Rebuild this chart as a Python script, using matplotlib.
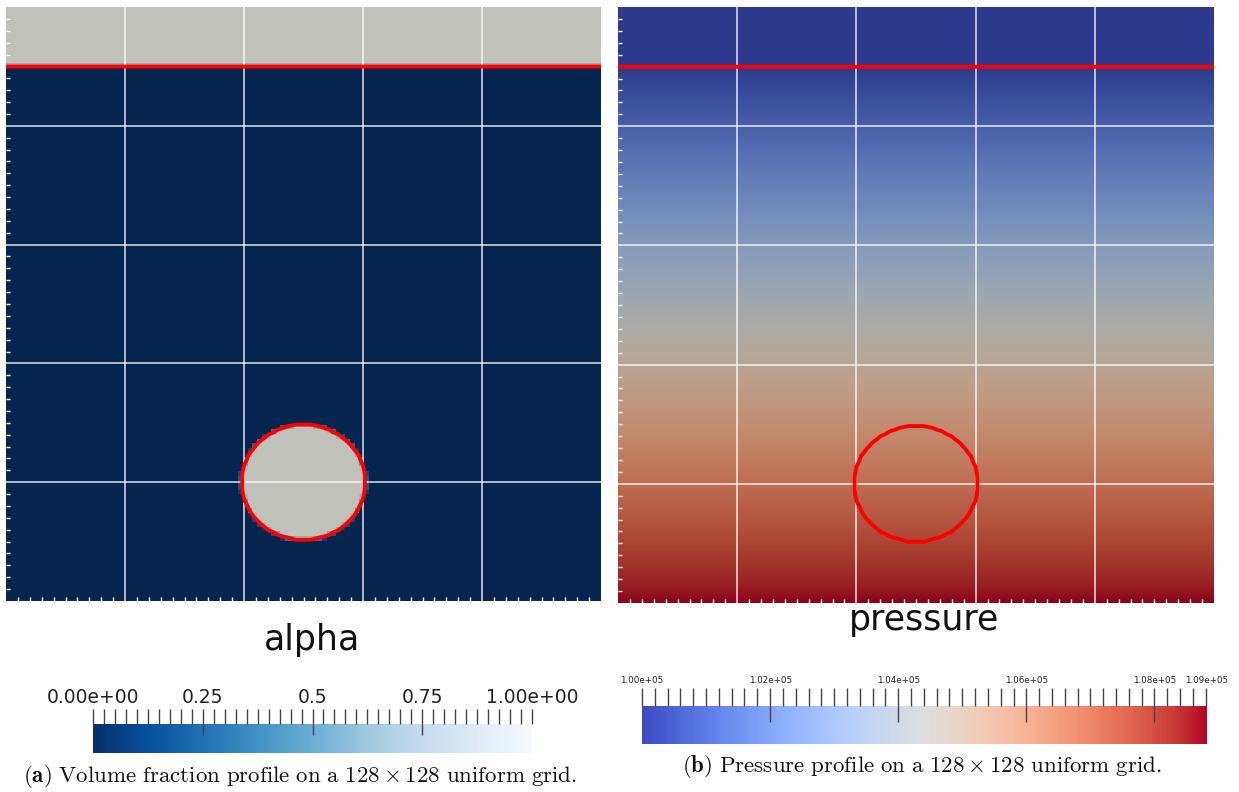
import numpy as np
import matplotlib
matplotlib.use("Agg")
import matplotlib.pyplot as plt
from matplotlib.colors import ListedColormap

plt.rcParams['mathtext.fontset'] = 'cm'

# test case geometry (unit square domain)
n_cells = 128
interface_y = 0.9
bubble_x, bubble_y = 0.5, 0.2
bubble_rx, bubble_ry = 0.104, 0.097

# pressure range shown on the colour bar
p_min = 1.00e5
p_max = 1.0882e5

alpha_ticks = [0.0, 0.25, 0.5, 0.75, 1.0]
alpha_labels = ["0.00e+00", "0.25", "0.5", "0.75", "1.00e+00"]
p_ticks = [1.00e5, 1.02e5, 1.04e5, 1.06e5, 1.08e5, p_max]
p_labels = ["1.00e+05", "1.02e+05", "1.04e+05", "1.06e+05", "1.08e+05", "1.09e+05"]

grid_pos = [0.2, 0.4, 0.6, 0.8]
shade = np.array([0.785, 0.772, 0.735])   # render is darker than the colour bar (lighting)

W, H = 1239, 792


def shaded(name):
    cols = plt.get_cmap(name)(np.linspace(0, 1, 256))
    cols[:, :3] *= shade
    return ListedColormap(cols)


def px(x, y, w, h):
    # pixel box (top-left origin) -> figure fraction
    return [x / W, 1 - (y + h) / H, w / W, h / H]


# ---------------------------------------------------------------
# fields
sub = 4
m = n_cells * sub
c = (np.arange(m) + 0.5) / m
X, Y = np.meshgrid(c, c)
gas = (Y > interface_y) | (((X - bubble_x) / bubble_rx) ** 2 + ((Y - bubble_y) / bubble_ry) ** 2 < 1)
alpha = gas.reshape(n_cells, sub, n_cells, sub).mean(axis=(1, 3))

p_col = np.where(c >= interface_y, p_min, p_min + (p_max - p_min) * (interface_y - c) / interface_y)
pressure = np.tile(p_col[:, None], (1, 4))

# padded alpha so the contour reaches the domain edges
xc = np.concatenate([[0.0], (np.arange(n_cells) + 0.5) / n_cells, [1.0]])
alpha_pad = np.pad(alpha, 1, mode='edge')

fig = plt.figure(figsize=(W / 100, H / 100), dpi=100)

ax1 = fig.add_axes(px(6, 7, 595, 594))
ax2 = fig.add_axes(px(618, 7, 596, 596))

ax1.imshow(alpha, origin='lower', extent=[0, 1, 0, 1], cmap=shaded('Blues_r'),
           vmin=0, vmax=1, aspect='auto', interpolation='nearest')
ax2.imshow(pressure, origin='lower', extent=[0, 1, 0, 1], cmap=shaded('coolwarm'),
           vmin=p_min, vmax=p_max, aspect='auto', interpolation='bilinear')

for ax in (ax1, ax2):
    ax.contour(xc, xc, alpha_pad, levels=[0.5], colors='#ff0000', linewidths=2.8, zorder=3)
    ax.set_xlim(0, 1)
    ax.set_ylim(0, 1)
    ax.set_xticks(grid_pos)
    ax.set_yticks(grid_pos)
    ax.set_xticks(np.arange(0.02, 1.0, 0.02), minor=True)
    ax.set_yticks(np.arange(0.02, 1.0, 0.02), minor=True)
    ax.tick_params(which='major', length=0, labelbottom=False, labelleft=False)
    ax.tick_params(which='minor', direction='in', length=3, width=1, color='white')
    ax.grid(True, color='white', alpha=0.8, linewidth=1.2)
    for s in ax.spines.values():
        s.set_visible(False)

fig.text(312 / W, 1 - 650 / H, "alpha", ha='center', va='baseline', fontsize=25, color='#111111')
fig.text(924 / W, 1 - 630 / H, "pressure", ha='center', va='baseline', fontsize=25, color='#111111')

# ---------------------------------------------------------------
# colour bars
def colour_bar(box, cmap, vmin, vmax, ticks, labels, step, tick_top, major_bot, lab_y, fs):
    cax = fig.add_axes(box)
    cax.imshow(np.linspace(0, 1, 256)[None, :], aspect='auto', cmap=cmap,
               extent=[vmin, vmax, 0, 1], interpolation='nearest')
    cax.set_xlim(vmin, vmax)
    cax.set_ylim(0, 1)
    cax.axis('off')
    tr = cax.get_xaxis_transform()
    minor = np.arange(vmin, vmax + step * 0.01, step)
    cax.vlines(minor, 1.0, tick_top, transform=tr, color='#444444', lw=1, clip_on=False)
    inner = [t for t in ticks if vmin < t < vmax - step * 0.5]
    cax.vlines(inner, major_bot, 1.0, transform=tr, color='#444444', lw=1, clip_on=False)
    for t, lab in zip(ticks, labels):
        cax.text(t, lab_y, lab, transform=tr, ha='center', va='baseline', fontsize=fs, color='#222222')
    return cax


colour_bar(px(93, 724, 439, 29), plt.get_cmap('Blues_r'), 0.0, 1.0, alpha_ticks, alpha_labels,
           0.025, 1.52, 0.62, 1.72, 13.5)
colour_bar(px(642, 706, 565, 38), plt.get_cmap('coolwarm'), p_min, p_max, p_ticks, p_labels,
           200.0, 1.47, 0.58, 1.60, 6.3)

fig.text(300 / W, 1 - 776 / H,
         r"$\mathbf{(a)}\ \mathrm{Volume\ fraction\ profile\ on\ a\ 128\times128\ uniform\ grid.}$",
         ha='center', va='center', fontsize=16.5, color='#111111')
fig.text(922 / W, 1 - 767 / H,
         r"$\mathbf{(b)}\ \mathrm{Pressure\ profile\ on\ a\ 128\times128\ uniform\ grid.}$",
         ha='center', va='center', fontsize=16.5, color='#111111')

fig.savefig("out.png", dpi=100)
